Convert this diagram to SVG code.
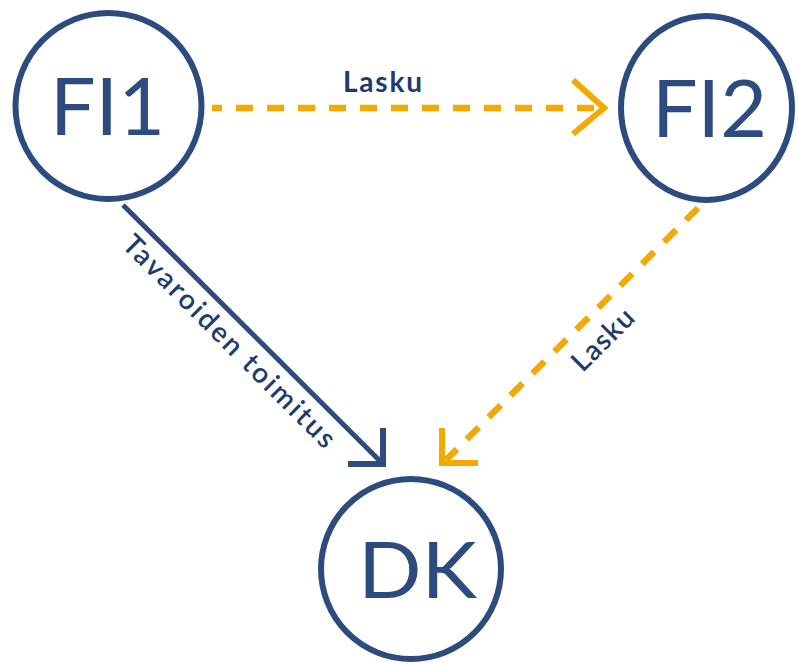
<svg xmlns="http://www.w3.org/2000/svg" width="798" height="664" viewBox="0 0 798 664">
<style>
.node{fill:none;stroke:#2e4b7f;stroke-width:6}
.ntext{font-family:Lato,"Liberation Sans",sans-serif;font-size:80px;fill:#2e4b7f;text-anchor:middle}
.lbl{font-family:Lato,"Liberation Sans",sans-serif;fill:#1f3a6c;text-anchor:middle}
.dash{fill:none;stroke:#f2aa00;stroke-width:6.5;stroke-dasharray:17 14}
.ohead{fill:none;stroke:#f2aa00;stroke-width:6}
.solid{fill:none;stroke:#2e4b7f;stroke-width:5}
.bhead{fill:none;stroke:#2e4b7f;stroke-width:6}
</style>
<rect width="798" height="664" fill="#ffffff"/>
<g id="FI1">
<circle class="node" cx="108.5" cy="106" r="93"/>
<text class="ntext" x="107.5" y="135" textLength="115" lengthAdjust="spacingAndGlyphs">FI1</text>
</g>
<g id="FI2">
<ellipse class="node" cx="706.5" cy="108" rx="85.5" ry="92"/>
<text class="ntext" x="709.5" y="137" font-size="79" textLength="115" lengthAdjust="spacingAndGlyphs">FI2</text>
</g>
<g id="DK">
<circle class="node" cx="411" cy="569" r="90"/>
<text class="ntext" x="417.5" y="598" style="font-size:78px" textLength="119" lengthAdjust="spacingAndGlyphs">DK</text>
</g>
<g id="connectors">
<line class="dash" x1="212" y1="108" x2="600" y2="108" stroke-dashoffset="7"/>
<polyline class="ohead" points="573,80 604,108 573,134"/>
<text class="lbl" x="382.5" y="92" font-size="28" font-weight="bold" textLength="79" lengthAdjust="spacing">Lasku</text>
<line class="solid" x1="123" y1="205" x2="382" y2="463"/>
<polyline class="bhead" points="383,428 383,464 348,464"/>
<text class="lbl" transform="translate(222.6,348) rotate(45)" font-size="28" font-weight="600" textLength="288" lengthAdjust="spacing">Tavaroiden toimitus</text>
<line class="dash" x1="698" y1="208" x2="446" y2="460"/>
<polyline class="ohead" points="442,428 442,463 478,463"/>
<text class="lbl" transform="translate(609.5,346.5) rotate(-45)" font-size="28" font-weight="600" textLength="76" lengthAdjust="spacing">Lasku</text>
</g>
</svg>
